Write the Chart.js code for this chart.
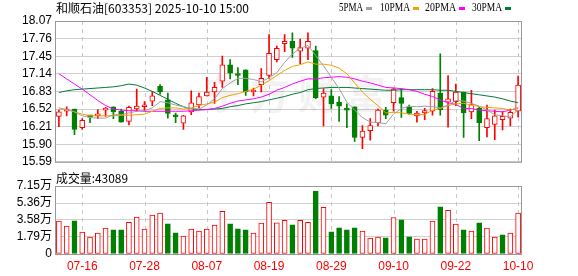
<!DOCTYPE html>
<html>
<head>
<meta charset="utf-8">
<script src="https://cdn.jsdelivr.net/npm/chart.js@4.4.0/dist/chart.umd.min.js"></script>
<style>
  body { margin: 0; background: #fff; width: 578px; height: 276px; overflow: hidden; position: relative; }
  #kline { position: absolute; left: 0; top: 0; }
  #vol { position: absolute; left: 0; top: 170px; }
</style>
</head>
<body>
<canvas id="kline" width="578" height="172"></canvas>
<canvas id="vol" width="578" height="106"></canvas>
<script>
var dates = ['07-11','07-14','07-15','07-16','07-17','07-18','07-21','07-22','07-23','07-24','07-25','07-28','07-29','07-30','07-31',
  '08-01','08-04','08-05','08-06','08-07','08-08','08-11','08-12','08-13','08-14','08-15','08-18','08-19','08-20','08-21','08-22',
  '08-25','08-26','08-27','08-28','08-29','09-01','09-02','09-03','09-04','09-05','09-08','09-09','09-10','09-11','09-12',
  '09-15','09-16','09-17','09-18','09-19','09-22','09-23','09-24','09-25','09-26','09-29','09-30','10-09','10-10'];

var opens = [16.39,16.48,16.52,16.19,16.40,16.40,16.50,16.56,16.48,16.30,16.52,16.56,16.66,16.92,16.68,
  16.40,16.27,16.47,16.59,16.75,16.82,17.01,17.30,17.13,17.21,16.82,16.95,17.11,17.39,17.67,17.71,
  17.54,17.59,17.55,16.73,16.75,16.64,16.52,16.56,16.02,16.14,16.28,16.50,16.63,16.72,16.55,
  16.40,16.45,16.48,16.80,16.64,16.65,16.82,16.47,16.53,16.19,16.25,16.33,16.36,16.48];
var highs = [16.50,16.56,16.52,16.35,16.41,16.51,16.55,16.56,16.52,16.57,16.87,16.65,16.83,16.95,16.80,
  16.45,16.41,16.84,16.80,17.08,16.99,17.45,17.39,17.25,17.21,16.89,17.23,17.83,17.63,17.83,17.86,
  17.75,17.86,17.63,16.88,16.86,16.74,16.61,16.56,16.23,16.35,16.52,16.55,16.89,16.87,16.59,
  16.48,16.53,16.88,17.49,17.11,16.96,16.82,16.85,16.55,16.59,16.50,16.48,16.52,17.10];
var lows = [16.21,16.40,16.07,16.16,16.28,16.35,16.39,16.35,16.29,16.24,16.48,16.48,16.58,16.78,16.36,
  16.28,16.16,16.42,16.54,16.75,16.62,16.90,17.05,16.95,16.76,16.75,16.82,17.06,17.35,17.53,17.43,
  17.32,17.39,16.70,16.22,16.53,16.30,16.19,15.95,15.82,15.97,16.22,16.35,16.48,16.37,16.43,
  16.29,16.33,16.41,16.41,16.20,16.58,16.02,16.35,15.96,16.03,15.98,16.15,16.22,16.38];
var closes = [16.47,16.52,16.16,16.32,16.38,16.42,16.53,16.47,16.29,16.55,16.57,16.58,16.75,16.82,16.44,
  16.38,16.40,16.63,16.74,16.82,16.90,17.30,17.15,17.11,16.82,16.84,17.06,17.50,17.59,17.71,17.59,
  17.60,17.71,16.72,16.80,16.61,16.57,16.50,16.02,16.13,16.23,16.50,16.41,16.87,16.62,16.44,
  16.45,16.49,16.83,16.51,16.70,16.82,16.45,16.60,16.28,16.35,16.40,16.39,16.46,16.94];

var ma5 = [16.52,16.51,16.47,16.40,16.37,16.36,16.36,16.42,16.42,16.45,16.48,16.49,16.54,16.65,16.63,
  16.59,16.56,16.53,16.52,16.59,16.70,16.88,16.98,17.06,17.06,17.04,17.00,17.07,17.16,17.34,17.49,
  17.59,17.64,17.46,17.28,17.08,16.88,16.64,16.50,16.37,16.29,16.28,16.26,16.43,16.53,16.57,
  16.56,16.57,16.56,16.54,16.59,16.67,16.66,16.62,16.57,16.50,16.42,16.40,16.38,16.51];
var ma10 = [16.54,16.51,16.47,16.43,16.40,16.40,16.40,16.40,16.41,16.41,16.42,16.43,16.48,16.53,16.54,
  16.54,16.52,16.54,16.58,16.61,16.64,16.72,16.76,16.79,16.83,16.87,16.94,17.02,17.11,17.20,17.27,
  17.30,17.35,17.31,17.31,17.29,17.24,17.14,16.98,16.82,16.69,16.58,16.45,16.46,16.45,16.43,
  16.42,16.42,16.50,16.53,16.58,16.61,16.62,16.59,16.56,16.55,16.54,16.53,16.50,16.54];
var ma20 = [17.14,17.05,16.96,16.87,16.77,16.67,16.58,16.52,16.50,16.49,16.49,16.48,16.48,16.48,16.48,
  16.48,16.48,16.49,16.50,16.51,16.53,16.57,16.62,16.66,16.68,16.70,16.73,16.78,16.85,16.90,16.96,
  17.01,17.05,17.05,17.07,17.08,17.09,17.08,17.05,17.01,16.98,16.94,16.90,16.89,16.88,16.86,
  16.83,16.78,16.74,16.68,16.63,16.60,16.53,16.53,16.50,16.49,16.48,16.47,16.50,16.54];
var ma30 = [16.81,16.84,16.86,16.87,16.88,16.89,16.90,16.91,16.93,16.96,16.94,16.89,16.83,16.76,16.69,
  16.62,16.56,16.52,16.51,16.51,16.52,16.53,16.56,16.58,16.61,16.63,16.65,16.68,16.71,16.74,16.78,
  16.81,16.86,16.88,16.89,16.90,16.90,16.90,16.89,16.88,16.87,16.86,16.85,16.85,16.86,16.86,
  16.86,16.86,16.86,16.85,16.85,16.83,16.81,16.79,16.77,16.75,16.73,16.70,16.66,16.63];

// 成交量 (万)
var vols = [3.45,2.93,3.48,2.30,1.78,2.20,2.72,2.54,2.54,3.34,3.87,2.61,4.08,4.29,3.17,
  2.23,1.88,2.61,2.40,2.61,3.03,4.49,3.17,2.65,2.54,2.20,3.24,5.43,3.28,3.55,3.07,
  3.55,3.34,6.62,4.91,2.33,2.75,2.54,2.75,2.40,1.67,1.78,1.71,3.83,3.59,1.81,
  1.57,1.57,3.45,4.95,4.60,3.14,2.54,2.40,3.28,2.72,1.78,2.02,2.20,4.3089];
// 1 = 涨 (red), 0 = 跌 (green)
var volUp = [1,1,0,1,1,1,1,0,0,1,1,1,1,1,0,
  0,1,1,1,1,1,1,0,0,0,1,1,1,1,1,0,
  1,1,0,1,0,0,0,0,1,1,1,0,1,0,0,
  1,1,1,0,1,1,0,1,0,1,1,0,1,1];

var priceTicks = [15.59,15.90,16.21,16.52,16.83,17.14,17.45,17.76,18.07];
var volTicks = [0,1.79,3.58,5.36,7.15];
var xTickLabels = ['07-16','07-28','08-07','08-19','08-29','09-10','09-22','10-10'];

var RED = '#ff0000';
var GREEN = '#008000';
var axisFont = { family: 'Liberation Sans, Arial, "Noto Sans CJK SC"', size: 12 };

function isUp(i) { return closes[i] >= opens[i]; }

// dashed vertical lines + frame, shared by both charts
var framePlugin = {
  id: 'frame',
  beforeDatasetsDraw: function (chart) {
    var ctx = chart.ctx, a = chart.chartArea, x = chart.scales.x;
    ctx.save();
    if (chart.canvas.id == 'kline') {
      ctx.fillStyle = 'rgba(0,0,0,0.05)';
      ctx.font = 'bold 40px "Noto Sans CJK SC"';
      ctx.textBaseline = 'middle';
      var wm = '东方财富';
      for (var k = 0; k < wm.length; k++) ctx.fillText(wm[k], 202 + k * 48, 94);
    }
    ctx.strokeStyle = '#c8c8c8';
    ctx.lineWidth = 1;
    ctx.setLineDash([4, 4]);
    xTickLabels.forEach(function (d) {
      var px = Math.round(x.getPixelForValue(dates.indexOf(d))) + 0.5;
      ctx.beginPath();
      ctx.moveTo(px, a.top);
      ctx.lineTo(px, a.bottom);
      ctx.stroke();
    });
    ctx.restore();
  },
  afterDraw: function (chart) {
    var ctx = chart.ctx, a = chart.chartArea;
    ctx.save();
    ctx.strokeStyle = '#999';
    ctx.lineWidth = 1;
    ctx.strokeRect(a.left + 0.5, a.top + 0.5, a.right - a.left - 1, a.bottom - a.top);
    ctx.restore();
  }
};

var headerPlugin = {
  id: 'header',
  afterDraw: function (chart) {
    var ctx = chart.ctx;
    ctx.save();
    ctx.fillStyle = '#000';
    ctx.textBaseline = 'middle';
    ctx.font = '12px "Noto Sans CJK SC"';
    if (chart.canvas.id == 'kline') {
      ctx.fillText('和顺石油[603353] 2025-10-10 15:00', 56, 8, 197);
      var leg = [['5PMA', '#a0a0a0', 339, 24], ['10PMA', '#f0a000', 380, 30], ['20PMA', '#ff00ff', 425, 31], ['30PMA', '#007a3c', 472, 30]];
      ctx.font = '12px "Liberation Serif"';
      leg.forEach(function (l) {
        ctx.fillStyle = '#000';
        ctx.fillText(l[0], l[2], 8, l[3]);
        ctx.fillStyle = l[1];
        ctx.fillRect(l[2] + l[3] + 3, 7, 6, 3);
      });
    } else {
      ctx.fillText('成交量:' + Math.round(vols[vols.length - 1] * 10000), 56, 8, 72);
    }
    ctx.restore();
  }
};

function maLine(label, data, color) {
  return { type: 'line', label: label, data: data, borderColor: color, borderWidth: 1,
    pointRadius: 0, tension: 0, fill: false, order: 0 };
}

new Chart(document.getElementById('kline'), {
  type: 'bar',
  data: {
    labels: dates,
    datasets: [
      maLine('5PMA', ma5, '#a0a0a0'),
      maLine('10PMA', ma10, '#f0a000'),
      maLine('20PMA', ma20, '#ff00ff'),
      maLine('30PMA', ma30, '#007a3c'),
      {
        label: 'body',
        data: opens.map(function (o, i) { return [o, closes[i]]; }),
        backgroundColor: opens.map(function (o, i) { return isUp(i) ? '#fff' : GREEN; }),
        borderColor: opens.map(function (o, i) { return isUp(i) ? RED : GREEN; }),
        borderWidth: 1,
        borderSkipped: false,
        barThickness: 5,
        minBarLength: 2,
        grouped: false,
        order: 1
      },
      {
        label: 'wick',
        data: lows.map(function (l, i) { return [l, highs[i]]; }),
        backgroundColor: opens.map(function (o, i) { return isUp(i) ? RED : GREEN; }),
        borderWidth: 0,
        barThickness: 1,
        grouped: false,
        order: 2
      }
    ]
  },
  options: {
    responsive: false,
    animation: false,
    layout: { padding: { top: 21, right: 56, bottom: 7, left: 0 } },
    plugins: { legend: { display: false }, tooltip: { enabled: false } },
    scales: {
      x: { display: false },
      y: {
        min: 15.59, max: 18.07,
        afterBuildTicks: function (s) { s.ticks = priceTicks.map(function (v) { return { value: v }; }); },
        afterFit: function (s) { s.width = 55; },
        ticks: { autoSkip: false, padding: 3, color: '#000', font: axisFont, callback: function (v) { return v.toFixed(2); } },
        grid: { color: '#d0d0d0', drawTicks: false },
        border: { display: false }
      }
    }
  },
  plugins: [framePlugin, headerPlugin]
});

new Chart(document.getElementById('vol'), {
  type: 'bar',
  data: {
    labels: dates,
    datasets: [{
      label: '成交量',
      data: vols,
      backgroundColor: volUp.map(function (u) { return u ? '#fff' : GREEN; }),
      borderColor: volUp.map(function (u) { return u ? RED : GREEN; }),
      borderWidth: 1,
      borderSkipped: false,
      barThickness: 5
    }]
  },
  options: {
    responsive: false,
    animation: false,
    layout: { padding: { top: 16, right: 56, bottom: 0, left: 0 } },
    plugins: { legend: { display: false }, tooltip: { enabled: false } },
    scales: {
      x: {
        afterFit: function (s) { s.height = 22; },
        grid: { display: false, drawTicks: false },
        border: { display: false },
        ticks: {
          autoSkip: false, maxRotation: 0, padding: 5, color: RED, font: axisFont,
          callback: function (v, i) { return xTickLabels.indexOf(dates[i]) >= 0 ? dates[i] : null; }
        }
      },
      y: {
        min: 0, max: 7.15,
        afterBuildTicks: function (s) { s.ticks = volTicks.map(function (v) { return { value: v }; }); },
        afterFit: function (s) { s.width = 55; },
        ticks: { autoSkip: false, padding: 3, color: '#000', font: axisFont,
          callback: function (v) { return v == 0 ? '0' : v.toFixed(2) + '万'; } },
        grid: { color: '#d0d0d0', drawTicks: false },
        border: { display: false }
      }
    }
  },
  plugins: [framePlugin, headerPlugin]
});
</script>
</body>
</html>
